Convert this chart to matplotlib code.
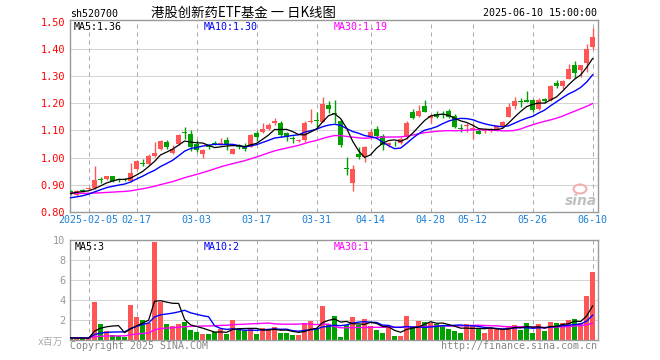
import numpy as np
import matplotlib
matplotlib.use('Agg')
import matplotlib.pyplot as plt
from matplotlib.patches import Ellipse

plt.rcParams['font.family'] = ['DejaVu Sans Mono', 'Noto Sans CJK SC']

# ---------------- data ----------------
opens = [
    0.876, 0.863, 0.881, 0.883, 0.888, 0.920, 0.921, 0.931, 0.918, 0.920,
    0.915, 0.957, 0.981, 0.976, 1.005, 1.033, 1.057, 1.018, 1.051, 1.093,
    1.088, 1.051, 1.015, 1.042, 1.055, 1.049, 1.066, 1.015, 1.042, 1.040,
    1.040, 1.089, 1.093, 1.107, 1.128, 1.129, 1.089, 1.069, 1.061, 1.065,
    1.132, 1.137, 1.132, 1.194, 1.164, 1.135, 0.960, 0.905, 1.015, 1.001,
    1.074, 1.105, 1.080, 1.046, 1.054, 1.054, 1.074, 1.166, 1.154, 1.190,
    1.146, 1.162, 1.160, 1.171, 1.154, 1.108, 1.115, 1.104, 1.098, 1.097,
    1.098, 1.101, 1.116, 1.150, 1.189, 1.206, 1.213, 1.213, 1.180, 1.215,
    1.211, 1.274, 1.263, 1.290, 1.339, 1.321, 1.348, 1.406]
closes = [
    0.866, 0.877, 0.879, 0.889, 0.917, 0.918, 0.931, 0.915, 0.917, 0.919,
    0.942, 0.989, 0.978, 1.007, 1.016, 1.060, 1.040, 1.032, 1.082, 1.091,
    1.039, 1.029, 1.027, 1.040, 1.049, 1.053, 1.045, 1.033, 1.040, 1.032,
    1.083, 1.075, 1.107, 1.119, 1.133, 1.083, 1.077, 1.067, 1.064, 1.126,
    1.136, 1.134, 1.196, 1.180, 1.162, 1.046, 0.957, 0.958, 1.002, 1.040,
    1.095, 1.080, 1.046, 1.053, 1.052, 1.068, 1.129, 1.145, 1.172, 1.168,
    1.152, 1.150, 1.158, 1.150, 1.112, 1.106, 1.120, 1.108, 1.088, 1.100,
    1.101, 1.116, 1.132, 1.187, 1.209, 1.204, 1.205, 1.174, 1.211, 1.208,
    1.262, 1.262, 1.280, 1.327, 1.311, 1.339, 1.400, 1.445]
highs = [
    0.880, 0.880, 0.886, 0.892, 0.968, 0.928, 0.934, 0.934, 0.925, 0.926,
    0.980, 0.992, 0.995, 1.012, 1.057, 1.064, 1.064, 1.048, 1.086, 1.112,
    1.100, 1.063, 1.030, 1.048, 1.060, 1.071, 1.075, 1.036, 1.050, 1.052,
    1.085, 1.099, 1.129, 1.126, 1.146, 1.135, 1.094, 1.080, 1.068, 1.135,
    1.180, 1.166, 1.223, 1.209, 1.212, 1.141, 1.001, 0.971, 1.038, 1.043,
    1.105, 1.115, 1.086, 1.056, 1.062, 1.076, 1.134, 1.178, 1.194, 1.213,
    1.160, 1.172, 1.170, 1.178, 1.160, 1.125, 1.127, 1.128, 1.106, 1.108,
    1.109, 1.118, 1.133, 1.200, 1.222, 1.220, 1.245, 1.217, 1.220, 1.220,
    1.267, 1.284, 1.284, 1.345, 1.357, 1.341, 1.416, 1.476]
lows = [
    0.861, 0.860, 0.872, 0.880, 0.886, 0.907, 0.918, 0.912, 0.910, 0.913,
    0.912, 0.953, 0.968, 0.973, 1.003, 1.028, 1.030, 1.013, 1.048, 1.067,
    1.025, 1.021, 0.999, 1.030, 1.045, 1.046, 1.027, 1.012, 1.030, 1.024,
    1.038, 1.062, 1.091, 1.100, 1.120, 1.074, 1.062, 1.055, 1.056, 1.056,
    1.128, 1.111, 1.130, 1.165, 1.129, 1.038, 0.937, 0.879, 0.995, 0.985,
    1.068, 1.073, 1.029, 1.040, 1.044, 1.050, 1.068, 1.142, 1.148, 1.166,
    1.126, 1.146, 1.145, 1.145, 1.110, 1.095, 1.096, 1.070, 1.085, 1.092,
    1.093, 1.099, 1.114, 1.148, 1.177, 1.185, 1.203, 1.169, 1.175, 1.201,
    1.208, 1.256, 1.251, 1.288, 1.294, 1.296, 1.315, 1.400]
volumes = [
    0.20, 0.15, 0.15, 0.20, 3.76, 1.63, 0.87, 0.53, 0.37, 0.27,
    3.53, 2.33, 2.03, 1.70, 9.83, 3.76, 1.63, 1.43, 1.63, 1.83,
    1.03, 0.83, 0.63, 0.63, 0.83, 1.13, 0.63, 2.03, 1.03, 0.93,
    1.20, 0.63, 1.20, 1.03, 1.30, 0.73, 0.73, 0.53, 0.53, 1.70,
    1.87, 1.20, 3.43, 1.63, 2.37, 0.33, 1.53, 2.27, 1.53, 2.13,
    1.37, 0.97, 0.73, 1.37, 0.37, 0.43, 2.37, 1.43, 1.87, 1.77,
    1.70, 1.60, 1.53, 1.13, 0.93, 0.73, 1.63, 1.37, 1.17, 0.73,
    1.17, 1.17, 1.03, 1.43, 1.53, 1.03, 1.70, 0.73, 1.63, 0.87,
    1.83, 1.73, 1.70, 2.03, 2.10, 1.70, 4.43, 6.77]
# sessions before the visible window (needed for the moving averages)
prior_closes = [
    0.905, 0.898, 0.890, 0.885, 0.892, 0.888, 0.880, 0.876, 0.884, 0.879,
    0.872, 0.868, 0.875, 0.870, 0.878, 0.873, 0.866, 0.872, 0.869, 0.862,
    0.845, 0.838, 0.830, 0.834, 0.838, 0.855, 0.866, 0.874, 0.879]
prior_volumes = [
    0.25, 0.18, 0.22, 0.30, 0.21, 0.19, 0.26, 0.17, 0.23, 0.20,
    0.28, 0.16, 0.24, 0.21, 0.19, 0.27, 0.22, 0.18, 0.25, 0.20,
    0.23, 0.17, 0.21, 0.26, 0.19, 0.22, 0.18, 0.24, 0.20]

tick_index = [3, 11, 21, 31, 41, 50, 60, 67, 77, 87]
tick_labels = ['2025-02-05', '02-17', '03-03', '03-17', '03-31',
               '04-14', '04-28', '05-12', '05-26', '06-10']
price_ticks = [0.80, 0.90, 1.00, 1.10, 1.20, 1.30, 1.40, 1.50]
vol_ticks = [2, 4, 6, 8, 10]

code = 'sh520700'
title = '港股创新药ETF基金 一 日K线图'
stamp = '2025-06-10 15:00:00'

# ---------------- style ----------------
UP = '#ff5555'
DOWN = '#00a000'
GRID = '#aaaaaa'
FRAME = '#999999'
W, H = 660, 360


def ma(prior, vals, n):
    s = np.array(list(prior) + list(vals), dtype=float)
    out = np.convolve(s, np.ones(n) / n, mode='valid')
    return out[-len(vals):]


def trunc(v, d):
    f = 10 ** d
    return np.floor(v * f + 1e-9) / f


o = np.array(opens); c = np.array(closes)
hi = np.array(highs); lo = np.array(lows)
vol = np.array(volumes)
x = np.arange(len(c))
up = c >= o
cols = np.where(up, UP, DOWN)

ma5 = ma(prior_closes, closes, 5)
ma10 = ma(prior_closes, closes, 10)
ma30 = ma(prior_closes, closes, 30)
vma5 = ma(prior_volumes, volumes, 5)
vma10 = ma(prior_volumes, volumes, 10)
vma30 = ma(prior_volumes, volumes, 30)

fig = plt.figure(figsize=(W / 100, H / 100), dpi=100)
fig.patch.set_facecolor('white')


def ax_rect(l, t, r, b):
    return [l / W, 1 - b / H, (r - l) / W, (b - t) / H]


ax = fig.add_axes(ax_rect(70, 20, 598, 212))
axv = fig.add_axes(ax_rect(70, 240, 598, 340))

XL = (-0.1, 87.9)
px1 = 0.72  # one pixel in points

for a in (ax, axv):
    a.set_xlim(*XL)
    for s in a.spines.values():
        s.set_color(FRAME)
        s.set_linewidth(1.0)
    for t in tick_index:
        a.axvline(t, color=GRID, lw=px1, dashes=(4, 4), zorder=0.5)
    a.tick_params(length=0)

# price panel
ax.set_ylim(0.80, 1.506)
for p in price_ticks[1:-1]:
    ax.axhline(p, color=GRID, lw=px1, dashes=(1, 1), zorder=0.5)
ax.vlines(x, lo, hi, colors=cols, lw=1.0, zorder=2)
body_h = np.maximum(np.abs(c - o), 0.0035)
ax.bar(x, body_h, bottom=np.minimum(o, c), width=0.78, color=cols,
       linewidth=0, zorder=3)
ax.plot(x, ma30, color='#ff00ff', lw=1.0, zorder=4)
ax.plot(x, ma10, color='#0000ff', lw=1.0, zorder=4)
ax.plot(x, ma5, color='black', lw=0.9, zorder=5)
ax.set_yticks(price_ticks)
ax.set_yticklabels(['%.2f' % p for p in price_ticks], color='#ff0000',
                   fontsize=7.4)
ax.tick_params(axis='y', pad=3.5)
ax.set_xticks(tick_index)
ax.set_xticklabels(tick_labels, color='#1a80d8', fontsize=7.2)
ax.tick_params(axis='x', pad=2.5)

# volume panel
axv.set_ylim(0, 10)
for v in vol_ticks[:-1]:
    axv.axhline(v, color=GRID, lw=px1, dashes=(1, 1), zorder=0.5)
axv.bar(x, vol, width=0.78, color=cols, linewidth=0, zorder=2)
axv.plot(x, vma30, color='#ff00ff', lw=1.0, zorder=4)
axv.plot(x, vma10, color='#0000ff', lw=1.0, zorder=4)
axv.plot(x, vma5, color='black', lw=0.9, zorder=5)
axv.set_yticks(vol_ticks)
axv.set_yticklabels([str(v) for v in vol_ticks], color='#999999', fontsize=7.4)
axv.tick_params(axis='y', pad=3.5)
axv.set_xticks([])


def ftext(px, py, s, **kw):
    kw.setdefault('va', 'baseline')
    kw.setdefault('fontsize', 7.2)
    fig.text(px / W, 1 - py / H, s, **kw)


ftext(70, 17, code, color='black')
ftext(151, 17, title, color='black', fontsize=9.6,
      family=['Noto Sans CJK SC', 'DejaVu Sans'])
ftext(597, 16.5, stamp, color='black', ha='right')

ftext(74, 29.5, 'MA5:%.2f' % trunc(ma5[-1], 2), color='black')
ftext(204, 29.5, 'MA10:%.2f' % trunc(ma10[-1], 2), color='#0000ff')
ftext(334, 29.5, 'MA30:%.2f' % trunc(ma30[-1], 2), color='#ff00ff')

ftext(75, 250.5, 'MA5:%d' % int(trunc(vma5[-1], 0)), color='black')
ftext(204, 250.5, 'MA10:%d' % int(trunc(vma10[-1], 0)), color='#0000ff')
ftext(334, 250.5, 'MA30:%d' % int(trunc(vma30[-1], 0)), color='#ff00ff')

ftext(63, 345, 'x百万', color='#aaaaaa', ha='right', fontsize=7.0)
ftext(70, 349, 'Copyright 2025 SINA.COM', color='#888888')
ftext(597, 349, 'http://finance.sina.com.cn', color='#888888', ha='right')

# sina watermark
ftext(565, 205, 'sina', color='#c0c0c0', fontsize=10, weight='bold',
      style='italic', family='DejaVu Sans')
fig.patches.append(Ellipse(((580) / W, 1 - 189 / H), 13 / W, 9 / H,
                           transform=fig.transFigure, fill=False,
                           edgecolor='#f2b0b0', lw=1.5))

fig.savefig('out.png', dpi=100, facecolor='white')
